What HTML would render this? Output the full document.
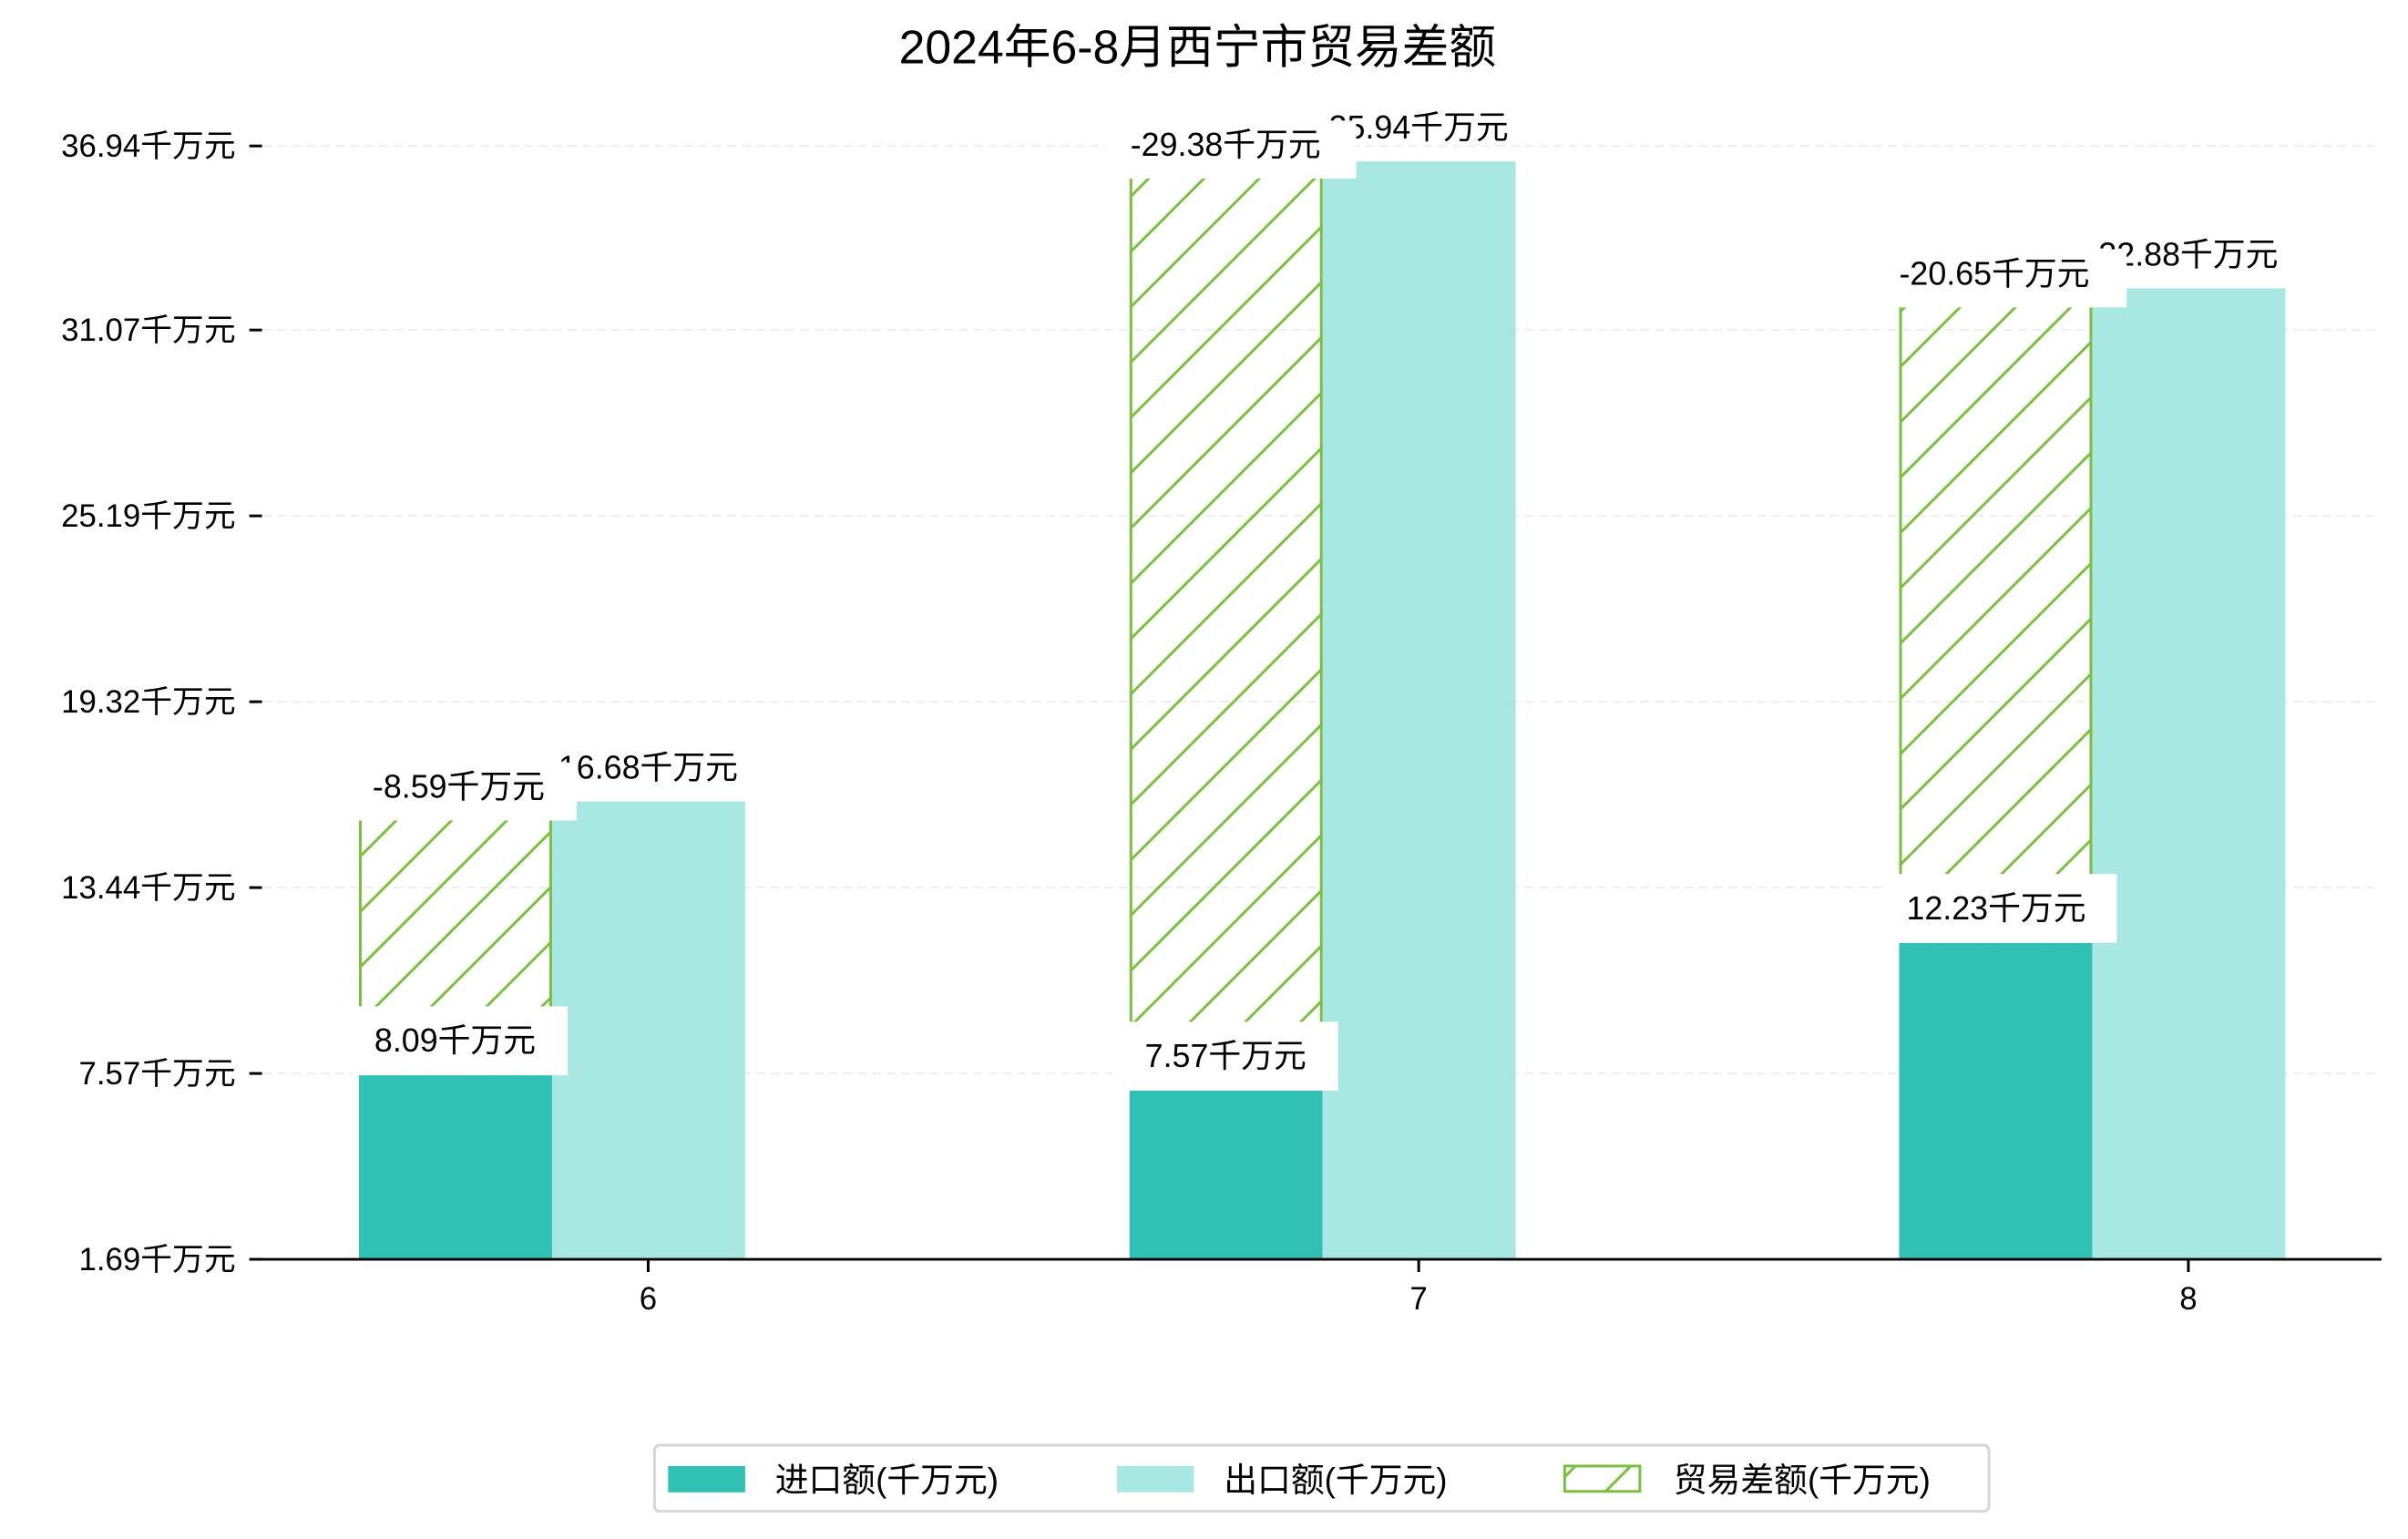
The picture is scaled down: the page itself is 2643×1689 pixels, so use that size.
<!DOCTYPE html>
<html><head><meta charset="utf-8"><style>
html,body{margin:0;padding:0;background:#fff;}
svg{display:block;}
text{font-family:"Liberation Sans","Noto Sans CJK SC",sans-serif;fill:#000;}
</style></head><body>
<svg width="2643" height="1689" viewBox="0 0 2643 1689" xmlns="http://www.w3.org/2000/svg">
<defs>
<pattern id="h" patternUnits="userSpaceOnUse" width="61" height="61">
<line x1="-10" y1="71" x2="71" y2="-10" stroke="#7BBF40" stroke-width="3"/>
<line x1="-40" y1="40" x2="40" y2="-40" stroke="#7BBF40" stroke-width="3"/>
<line x1="21" y1="101" x2="101" y2="21" stroke="#7BBF40" stroke-width="3"/>
</pattern>
</defs>
<g transform="scale(0.995)">
<text x="1321" y="70" font-size="52" text-anchor="middle">2024年6-8月西宁市贸易差额</text>
<g stroke="#eeeeee" stroke-width="2" stroke-dasharray="10,6">
<line x1="290" y1="161" x2="2626" y2="161"/>
<line x1="290" y1="364" x2="2626" y2="364"/>
<line x1="290" y1="569" x2="2626" y2="569"/>
<line x1="290" y1="774" x2="2626" y2="774"/>
<line x1="290" y1="979" x2="2626" y2="979"/>
<line x1="290" y1="1184" x2="2626" y2="1184"/>
</g>
<g stroke="#000" stroke-width="3">
<line x1="275" y1="161" x2="289" y2="161"/>
<line x1="275" y1="364" x2="289" y2="364"/>
<line x1="275" y1="569" x2="289" y2="569"/>
<line x1="275" y1="774" x2="289" y2="774"/>
<line x1="275" y1="979" x2="289" y2="979"/>
<line x1="275" y1="1184" x2="289" y2="1184"/>
<line x1="275" y1="1389" x2="289" y2="1389"/>
</g>
<g font-size="35" text-anchor="end">
<text x="260" y="173">36.94千万元</text>
<text x="260" y="376">31.07千万元</text>
<text x="260" y="581">25.19千万元</text>
<text x="260" y="786">19.32千万元</text>
<text x="260" y="991">13.44千万元</text>
<text x="260" y="1196">7.57千万元</text>
<text x="260" y="1401">1.69千万元</text>
</g>
<rect x="396" y="1186" width="213" height="203" fill="#30C0B4"/>
<rect x="609" y="884" width="213" height="505" fill="#A9E8E2"/>
<rect x="396" y="905" width="213" height="281" fill="url(#h)"/>
<line x1="397.5" y1="905" x2="397.5" y2="1186" stroke="#7BBF40" stroke-width="3"/>
<line x1="607.5" y1="905" x2="607.5" y2="1186" stroke="#7BBF40" stroke-width="3"/>
<rect x="1246" y="1203" width="213" height="186" fill="#30C0B4"/>
<rect x="1459" y="178" width="213" height="1211" fill="#A9E8E2"/>
<rect x="1246" y="197" width="213" height="1006" fill="url(#h)"/>
<line x1="1247.5" y1="197" x2="1247.5" y2="1203" stroke="#7BBF40" stroke-width="3"/>
<line x1="1457.5" y1="197" x2="1457.5" y2="1203" stroke="#7BBF40" stroke-width="3"/>
<rect x="2095" y="1040" width="213" height="349" fill="#30C0B4"/>
<rect x="2308" y="318" width="213" height="1071" fill="#A9E8E2"/>
<rect x="2095" y="339" width="213" height="701" fill="url(#h)"/>
<line x1="2096.5" y1="339" x2="2096.5" y2="1040" stroke="#7BBF40" stroke-width="3"/>
<line x1="2306.5" y1="339" x2="2306.5" y2="1040" stroke="#7BBF40" stroke-width="3"/>
<g font-size="36" text-anchor="middle">
<text x="715" y="859">16.68千万元</text>
<text x="1565" y="153">35.94千万元</text>
<text x="2414" y="293">32.88千万元</text>
<rect x="376" y="841" width="260" height="64" fill="#fff"/>
<text x="506" y="880">-8.59千万元</text>
<rect x="1220" y="133" width="276" height="64" fill="#fff"/>
<text x="1352" y="172">-29.38千万元</text>
<rect x="2063" y="275" width="283" height="64" fill="#fff"/>
<text x="2200" y="314">-20.65千万元</text>
<rect x="388" y="1110" width="238" height="76" fill="#fff"/>
<text x="502" y="1160">8.09千万元</text>
<rect x="1227" y="1127" width="249" height="76" fill="#fff"/>
<text x="1352" y="1177">7.57千万元</text>
<rect x="2077" y="964" width="258" height="76" fill="#fff"/>
<text x="2202" y="1014">12.23千万元</text>
</g>
<line x1="276" y1="1389" x2="2627" y2="1389" stroke="#000" stroke-width="3"/>
<g stroke="#000" stroke-width="3">
<line x1="715" y1="1389" x2="715" y2="1403"/>
<line x1="1565" y1="1389" x2="1565" y2="1403"/>
<line x1="2414" y1="1389" x2="2414" y2="1403"/>
</g>
<g font-size="35" text-anchor="middle">
<text x="715" y="1444">6</text>
<text x="1565" y="1444">7</text>
<text x="2414" y="1444">8</text>
</g>
<rect x="722" y="1594" width="1472" height="73" rx="6" fill="#fff" stroke="#d6d6d6" stroke-width="3"/>
<rect x="737" y="1617" width="85" height="29" fill="#30C0B4"/>
<text x="855" y="1645" font-size="37">进口额(千万元)</text>
<rect x="1232" y="1617" width="85" height="29" fill="#A9E8E2"/>
<text x="1350" y="1645" font-size="37">出口额(千万元)</text>
<rect x="1726" y="1617" width="83" height="28" fill="url(#h)" stroke="#7BBF40" stroke-width="3"/>
<text x="1846" y="1645" font-size="37">贸易差额(千万元)</text>
</g>
</svg>
</body></html>
